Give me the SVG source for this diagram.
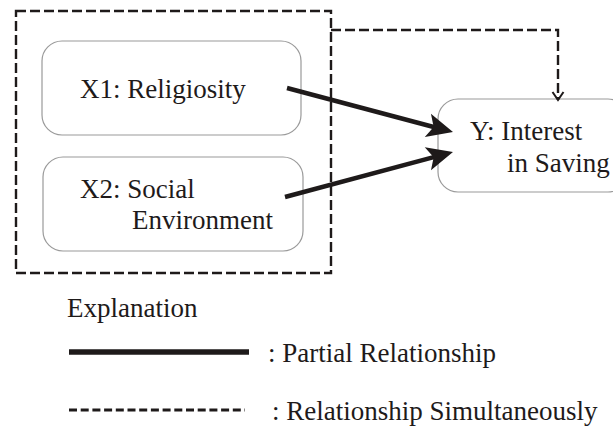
<svg xmlns="http://www.w3.org/2000/svg" width="613" height="427" viewBox="0 0 613 427">
<style>
  .node { fill: #ffffff; stroke: #9a9a9a; stroke-width: 1.2; }
  .dash { fill: none; stroke: #1e1a1a; stroke-width: 2.4; stroke-dasharray: 10 4; }
  .solid { fill: none; stroke: #1e1a1a; stroke-width: 4.5; }
</style>
<defs>
  <marker id="head" markerUnits="userSpaceOnUse" markerWidth="30" markerHeight="28" viewBox="0 -14 28 28" refX="8" refY="0" orient="auto">
    <path d="M26,0 L0,-12 L6,0 L0,12 Z" fill="#1e1a1a"/>
  </marker>
  <marker id="vhead" markerUnits="userSpaceOnUse" markerWidth="14" markerHeight="14" viewBox="-1 -7 12 14" refX="9" refY="0" orient="auto">
    <path d="M1,-5.5 L9,0 L1,5.5" fill="none" stroke="#1e1a1a" stroke-width="2"/>
  </marker>
</defs>
<rect width="613" height="427" fill="#ffffff"/>

<g id="group-box">
  <rect x="16" y="11" width="315" height="262" class="dash"/>
</g>

<g font-family="Liberation Serif" font-size="27" fill="#1e1a1a">
<g id="x1">
  <rect x="42" y="41" width="259" height="94" rx="20" class="node"/>
  <text x="80" y="98">X1: Religiosity</text>
</g>

<g id="x2">
  <rect x="43" y="157" width="260" height="94" rx="20" class="node"/>
  <text x="80" y="198">X2: Social</text>
  <text x="132" y="229">Environment</text>
</g>

<g id="y">
  <rect x="438" y="99" width="190" height="93" rx="20" class="node"/>
  <text x="470" y="140">Y: Interest</text>
  <text x="507" y="172">in Saving</text>
</g>
</g>

<g id="connectors">
  <line x1="287" y1="88" x2="435.6" y2="127.5" class="solid" marker-end="url(#head)"/>
  <line x1="285" y1="197" x2="435.6" y2="156.7" class="solid" marker-end="url(#head)"/>
  <path d="M331,30 H558 V100" class="dash" marker-end="url(#vhead)"/>
</g>

<g id="legend" font-family="Liberation Serif" font-size="27" fill="#1e1a1a">
  <text x="67" y="317">Explanation</text>
  <line x1="69" y1="352" x2="249" y2="352" stroke="#1e1a1a" stroke-width="5.5"/>
  <text x="268" y="362">: Partial Relationship</text>
  <line x1="69" y1="410" x2="245" y2="410" stroke="#1e1a1a" stroke-width="3" stroke-dasharray="8 3.7"/>
  <text x="272" y="420">: Relationship Simultaneously</text>
</g>
</svg>
